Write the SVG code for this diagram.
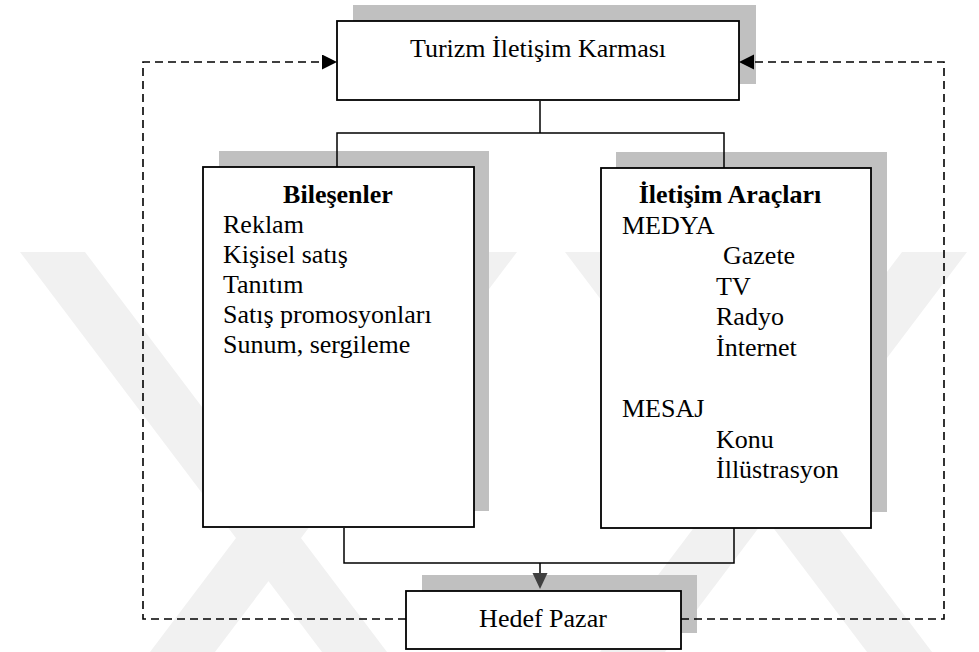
<svg xmlns="http://www.w3.org/2000/svg" width="979" height="652" viewBox="0 0 979 652">
<defs>
<style>
.shadow{fill:#c0c0c0;stroke:none}
.box{fill:#fff;stroke:#000;stroke-width:1.8}
.t{font-family:"Liberation Serif","Times New Roman",serif;font-size:26px;fill:#000}
.b{font-weight:bold}
.m{text-anchor:middle}
.line{fill:none;stroke:#000;stroke-width:1.5}
.dash{fill:none;stroke:#000;stroke-width:1.6;stroke-dasharray:8 5}
.wm{fill:#f1f1f1;stroke:none}
</style>
<marker id="ah" markerUnits="userSpaceOnUse" markerWidth="16" markerHeight="16" refX="15" refY="7.5" orient="auto">
<path d="M0,0 L15,7.5 L0,15 Z" fill="#000"/>
</marker>
</defs>
<rect width="979" height="652" fill="#fff"/>
<g id="watermark">
<polygon class="wm" points="20,252 85,252 387,652 322,652"/>
<polygon class="wm" points="150,652 215,652 517,252 452,252"/>
<polygon class="wm" points="565,252 630,252 932,652 867,652"/>
<polygon class="wm" points="600,652 665,652 967,252 902,252"/>
</g>
<g id="top">
<rect class="shadow" x="353" y="5" width="403" height="79"/>
<rect class="box" x="337" y="21" width="402" height="79"/>
<text class="t m" x="538" y="57">Turizm İletişim Karması</text>
</g>
<g id="bilesenler">
<rect class="shadow" x="219" y="151" width="270" height="360"/>
<rect class="box" x="203" y="167" width="271" height="360"/>
<text class="t b m" x="338" y="203">Bileşenler</text>
<text class="t" x="223" y="233">Reklam</text>
<text class="t" x="223" y="263">Kişisel satış</text>
<text class="t" x="223" y="293">Tanıtım</text>
<text class="t" x="223" y="323">Satış promosyonları</text>
<text class="t" x="223" y="353">Sunum, sergileme</text>
</g>
<g id="araclar">
<rect class="shadow" x="616" y="152" width="271" height="360"/>
<rect class="box" x="601" y="168" width="270" height="360"/>
<text class="t b m" x="730" y="203">İletişim Araçları</text>
<text class="t" x="622" y="234">MEDYA</text>
<text class="t" x="723" y="264">Gazete</text>
<text class="t" x="716" y="295">TV</text>
<text class="t" x="716" y="325">Radyo</text>
<text class="t" x="716" y="356">İnternet</text>
<text class="t" x="622" y="417">MESAJ</text>
<text class="t" x="716" y="448">Konu</text>
<text class="t" x="716" y="478">İllüstrasyon</text>
</g>
<g id="hedef">
<rect class="shadow" x="422" y="575" width="275" height="58"/>
<rect class="box" x="406" y="591" width="275" height="58"/>
<text class="t m" x="543" y="627">Hedef Pazar</text>
</g>
<g id="connectors">
<path class="line" d="M540,101 V133"/>
<path class="line" d="M337,167 V133 H724 V168"/>
<path class="line" d="M344,528 V563 H734 V528"/>
<path class="line" d="M540,563 V574"/>
<polygon points="532.5,573 547.5,573 540,589" fill="#404040"/>
<path class="dash" d="M406,619 H143 V62 H337" marker-end="url(#ah)"/>
<path class="dash" d="M681,619 H944 V62 H739" marker-end="url(#ah)"/>
</g>
</svg>
